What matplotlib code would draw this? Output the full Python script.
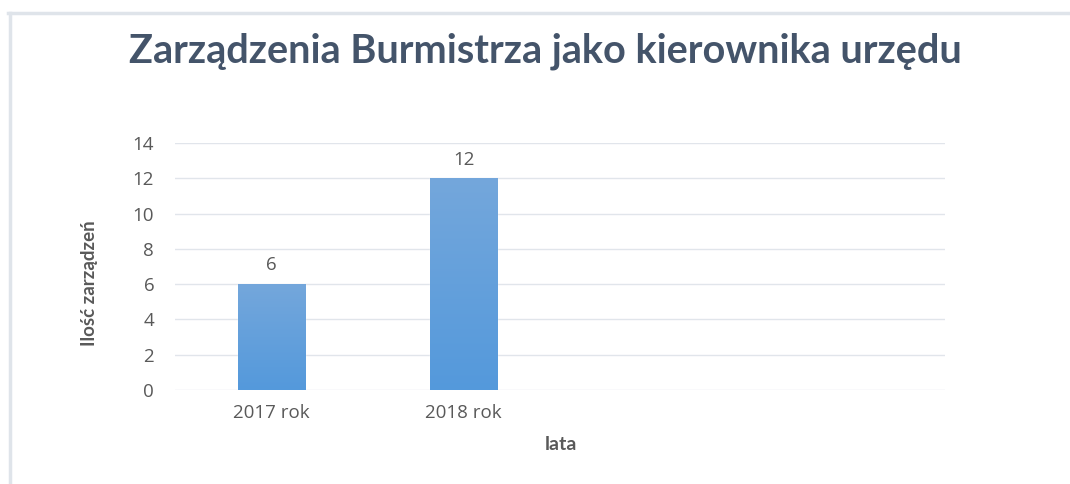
import numpy as np
import matplotlib.pyplot as plt
from matplotlib.lines import Line2D
from matplotlib.colors import LinearSegmentedColormap

categories = ["2017 rok", "2018 rok", "", ""]
values = [6, 12, 0, 0]
yticks = [0, 2, 4, 6, 8, 10, 12, 14]

W, H = 1070, 484
fig = plt.figure(figsize=(W / 100, H / 100), dpi=100)
fig.patch.set_facecolor("white")

ax = fig.add_axes([175 / W, 1 - 390 / H, 770 / W, (390 - 143) / H])
x = np.arange(len(categories))
bars = ax.bar(x[:2], values[:2], width=0.35, color="#5e9edc",
              edgecolor="white", linewidth=1, zorder=2)

# gradient fill, lighter at top
cmap = LinearSegmentedColormap.from_list("g", ["#5499dc", "#74a7db"])
grad = np.linspace(0, 1, 256).reshape(-1, 1)
for b, v in zip(bars, values):
    x0, w, h = b.get_x(), b.get_width(), b.get_height()
    im = ax.imshow(grad, cmap=cmap, origin="lower", aspect="auto",
                   extent=[x0, x0 + w, 0, h], zorder=3)
    im.set_clip_path(b)
    ax.text(x0 + w / 2, h + 0.55, str(v), ha="center", va="bottom",
            fontsize=13.5, color="#595959", family="Open Sans")

ax.set_xlim(-0.5, len(categories) - 0.5)
ax.set_ylim(0, 14)
ax.set_yticks(yticks)
ax.set_xticks(x[:2])
ax.set_xticklabels(categories[:2])
ax.grid(axis="y", color="#e1e5eb", linewidth=1, zorder=0)
ax.set_axisbelow(True)
for s in ax.spines.values():
    s.set_visible(False)
ax.tick_params(length=0, labelsize=13.5, labelcolor="#595959", pad=10)
ax.tick_params(axis="y", pad=15)
for lab in ax.get_xticklabels() + ax.get_yticklabels():
    lab.set_family("Open Sans")

fig.text(561 / W, 1 - 445 / H, "lata", ha="center", va="center",
         fontsize=14, fontweight="bold", color="#595959", family="Lato")
fig.text(90 / W, 1 - 283 / H, "Ilość zarządzeń", ha="center", va="center",
         rotation=90, fontsize=13.5, fontweight="bold", color="#595959",
         family="Lato")

fig.text(545 / W, 1 - 51 / H, "Zarządzenia Burmistrza jako kierownika urzędu",
         ha="center", va="center", fontsize=28.5, fontweight="bold",
         color="#44546a", family="Lato")

# frame of the chart area
fig.add_artist(Line2D([8 / W, 1], [1 - 13 / H, 1 - 13 / H], transform=fig.transFigure,
                      color="#dfe4ea", linewidth=2.5))
fig.add_artist(Line2D([9.5 / W, 9.5 / W], [0, 1 - 13 / H], transform=fig.transFigure,
                      color="#dfe4ea", linewidth=2.5))

fig.savefig("out.png", dpi=100)
